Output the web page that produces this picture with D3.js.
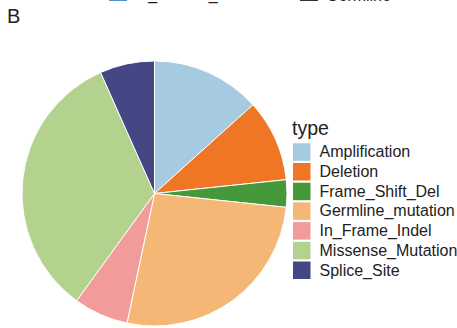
<!DOCTYPE html>
<html>
<head>
<meta charset="utf-8">
<script src="https://cdn.jsdelivr.net/npm/d3@7"></script>
<style>
  html, body { margin: 0; padding: 0; background: #fff; }
  svg { display: block; font-family: "Liberation Sans", Arial, sans-serif; }
</style>
</head>
<body>
<svg id="chart" width="457" height="328"></svg>
<script>
// Mutation types and their counts
const types = ["Amplification", "Deletion", "Frame_Shift_Del", "Germline_mutation",
               "In_Frame_Indel", "Missense_Mutation", "Splice_Site"];
const counts = [4, 3, 1, 8, 2, 10, 2];
const colors = ["#a6cae0", "#ee7624", "#46993a", "#f5b775",
                "#f29b9b", "#b2d28d", "#444784"];

// Legend of the panel above (its lower edge only)
const topKeys = ["In_Normal_Tissue", "Germline"];
const topColors = ["#4f8fd0", "#333333"];

const svg = d3.select("#chart");
const W = 457, H = 328;

svg.append("rect").attr("width", W).attr("height", H).attr("fill", "#fff");

// Panel tag
svg.append("text").attr("x", 7).attr("y", 23)
  .attr("font-size", 20).attr("fill", "#222").text("B");

// Clipped remnant of the previous panel's legend
const topX = d3.scaleOrdinal().domain(topKeys).range([109, 300]);
const tg = svg.append("g");
topKeys.forEach((k, i) => {
  tg.append("rect").attr("x", topX(k)).attr("y", -16).attr("width", 18).attr("height", 17)
    .attr("fill", topColors[i]);
  tg.append("text").attr("x", topX(k) + 26).attr("y", i === 0 ? -0.5 : 0.5)
    .attr("font-size", 16).attr("fill", "#222").text(k);
});

// Pie
const cx = 154.5, cy = 193.5, R = 132.5;
const pie = d3.pie().sort(null).value(d => d.v);
const arc = d3.arc().innerRadius(0).outerRadius(R);
const color = d3.scaleOrdinal().domain(types).range(colors);
const data = types.map((t, i) => ({ t, v: counts[i] }));

svg.append("g").attr("transform", `translate(${cx},${cy})`)
  .selectAll("path").data(pie(data)).join("path")
  .attr("d", arc)
  .attr("fill", d => color(d.data.t))
  .attr("stroke", "#fff").attr("stroke-width", 1);

// Legend
const lx = 293, ly = 143.3, pitch = 19.7;
const lg = svg.append("g");
lg.append("text").attr("x", lx - 1).attr("y", 135)
  .attr("font-size", 19.5).attr("fill", "#222").text("type");
const ys = d3.scaleBand().domain(types).range([ly, ly + pitch * types.length]).padding(0);
types.forEach(t => {
  lg.append("rect").attr("x", lx).attr("y", ys(t)).attr("width", 17.5).attr("height", 17.5)
    .attr("fill", color(t));
  lg.append("text").attr("x", 319.5).attr("y", ys(t) + 14)
    .attr("font-size", 16).attr("fill", "#222").text(t);
});
</script>
</body>
</html>
